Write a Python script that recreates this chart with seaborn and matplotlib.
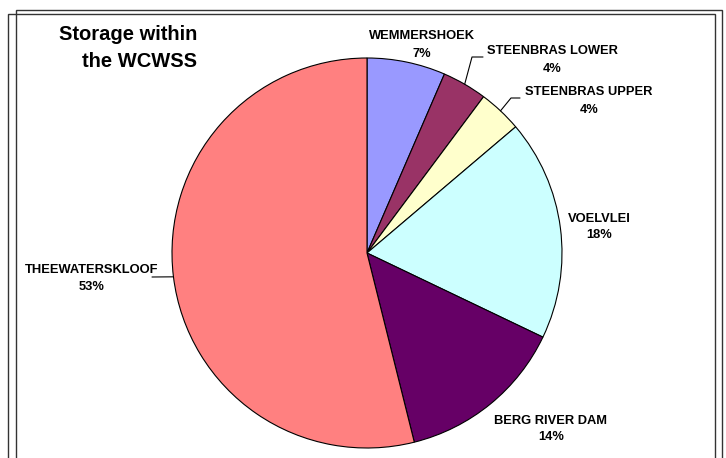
import matplotlib.pyplot as plt
import numpy as np
import seaborn as sns
from matplotlib.patches import Rectangle

# Storage share of each dam and the printed labels
reservoirs = ['WEMMERSHOEK', 'STEENBRAS LOWER', 'STEENBRAS UPPER',
              'VOELVLEI', 'BERG RIVER DAM', 'THEEWATERSKLOOF']
share = [6.5, 3.7, 3.6, 18.3, 14.0, 53.9]
pct_labels = ['7%', '4%', '4%', '18%', '14%', '53%']
slice_colors = ['#9999FF', '#993366', '#FFFFCC', '#CCFFFF', '#660066', '#FF8080']

sns.set_style('white')
plt.rcParams['font.family'] = ['Liberation Sans', 'DejaVu Sans']

W, H = 726, 458
fig = plt.figure(figsize=(W / 100, H / 100), dpi=100)
ax = fig.add_axes([0, 0, 1, 1])


def py(y):
    # pixel row (from top) -> data y (from bottom)
    return H - y


cx, cy, r = 367, 253, 195
wedges, _ = ax.pie(share, colors=slice_colors, startangle=90, counterclock=False,
                   center=(cx, py(cy)), radius=r,
                   wedgeprops=dict(edgecolor='black', linewidth=0.8))
ax.set_xlim(0, W)
ax.set_ylim(0, H)
ax.set_aspect('equal')
ax.axis('off')

# double frame around the chart area
ax.add_patch(Rectangle((8, -20), 707, py(14) + 20, fill=False, lw=1.0, ec='#333333'))
ax.add_patch(Rectangle((16, -20), 706, py(10) + 20, fill=False, lw=1.0, ec='#333333'))

# title
tkw = dict(ha='right', va='baseline', fontsize=14.5, fontweight='bold', color='black')
ax.text(197, py(40), 'Storage within', **tkw)
ax.text(197, py(67), 'the WCWSS', **tkw)

# label anchors: x centre, baseline of name line, baseline of percent line
label_pos = [(422, 39, 57), (552, 54, 72), (589, 95, 113),
             (599, 222, 238), (551, 424, 440), (92, 273, 290)]
lkw = dict(ha='center', va='baseline', fontsize=9.3, fontweight='bold', color='black')
for name, pct, (x, y1, y2) in zip(reservoirs, pct_labels, label_pos):
    ax.text(x, py(y1), name, **lkw)
    ax.text(x, py(y2), pct, **lkw)

# leader lines from wedge edge (mid-angle) to the label
leaders = {1: [(472, 57), (483, 57)], 2: [(511, 98), (520, 98)], 5: [(152, 277)]}
cum = np.cumsum([0] + share)
for i, pts in leaders.items():
    mid = (cum[i] + cum[i + 1]) / 2 / 100 * 2 * np.pi
    sx, sy = cx + r * np.sin(mid), cy - r * np.cos(mid)
    xs = [sx] + [p[0] for p in pts]
    ys = [py(sy)] + [py(p[1]) for p in pts]
    ax.plot(xs, ys, color='black', lw=0.8)

fig.savefig('out.png', dpi=100)
